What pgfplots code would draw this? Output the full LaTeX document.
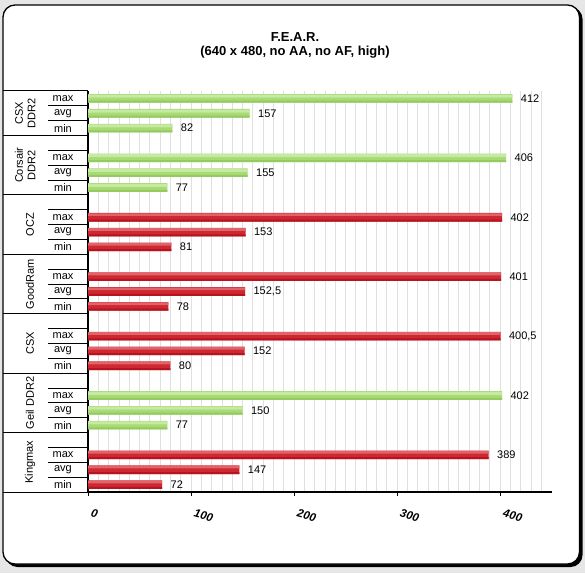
\documentclass[border=0pt]{standalone}
\usepackage{fontspec}
\setmainfont{Liberation Sans}
\usepackage{pgfplots}
\pgfplotsset{compat=1.18}
\usepackage{pgfplotstable}

\definecolor{bgc}{RGB}{230,230,230}
\definecolor{gtop}{RGB}{198,234,162}
\definecolor{gmid}{RGB}{168,218,118}
\definecolor{gbot}{RGB}{148,202,96}
\definecolor{rtop}{RGB}{224,100,105}
\definecolor{rmid}{RGB}{206,40,50}
\definecolor{rbot}{RGB}{182,20,30}
\definecolor{gridc}{RGB}{224,224,224}

\pgfplotstableread{
x y lab
412 26.5 412
157 25.5 157
82 24.5 82
406 22.5 406
155 21.5 155
77 20.5 77
402 6.5 402
150 5.5 150
77 4.5 77
}\greendata

\pgfplotstableread{
x y lab
402 18.5 402
153 17.5 153
81 16.5 81
401 14.5 401
152.5 13.5 152,5
78 12.5 78
400.5 10.5 400,5
152 9.5 152
80 8.5 80
389 2.5 389
147 1.5 147
72 0.5 72
}\reddata

\begin{document}
\begin{tikzpicture}[x=1pt,y=1pt]
\useasboundingbox (0,0) rectangle (585,573);
\fill[bgc] (0,0) rectangle (585,573);
\fill[black, rounded corners=12pt] (5.5,6) rectangle (582.5,566);
\filldraw[fill=white, draw=black, line width=1.3pt, rounded corners=12pt] (3,9) rectangle (579.5,568);

\node[font=\bfseries\fontsize{13}{14.5}\selectfont, align=center] at (295,527.5) {F.E.A.R.\\(640 x 480, no AA, no AF, high)};

\begin{axis}[
  at={(88pt,81pt)}, anchor=south west,
  scale only axis, width=463.5pt, height=401pt,
  xmin=0, xmax=450, ymin=0, ymax=27,
  clip=false,
  axis x line*=bottom, axis y line*=left,
  axis line style={-, line width=1.2pt},
  xtick={0,100,...,400},
  minor xtick={0,10,...,440},
  xmajorgrids=true, xminorgrids=true,
  major grid style={gridc, line width=0.7pt},
  minor grid style={gridc, line width=0.7pt},
  major tick length=4pt, minor tick length=0pt,
  tick align=outside,
  x tick style={black, line width=0.8pt},
  ytick={0.5,1.5,2.5,4.5,5.5,6.5,8.5,9.5,10.5,12.5,13.5,14.5,16.5,17.5,18.5,20.5,21.5,22.5,24.5,25.5,26.5},
  yticklabels={min,avg,max,min,avg,max,min,avg,max,min,avg,max,min,avg,max,min,avg,max,min,avg,max},
  y tick style={draw=none},
  yticklabel style={anchor=center, xshift=-21pt, font=\fontsize{11}{13}\selectfont},
  xticklabel style={anchor=west, rotate=-15, font=\bfseries\itshape\fontsize{11.5}{13}\selectfont},
  xticklabel shift=16pt,
  /pgf/number format/assume math mode=true,
  nodes near coords style={anchor=west, xshift=5pt, font=\fontsize{11}{13}\selectfont, black},
]
\addplot[xbar, bar width=8.6pt, bar shift=0pt, draw=none, fill=gmid,
  point meta=explicit symbolic, nodes near coords] table[x=x, y=y, meta=lab] {\greendata};
\addplot[xbar, bar width=3pt, bar shift=2.2pt, draw=none, fill=gtop] table[x=x, y=y] {\greendata};
\addplot[xbar, bar width=2pt, bar shift=-3.3pt, draw=none, fill=gbot] table[x=x, y=y] {\greendata};
\addplot[xbar, bar width=8.6pt, bar shift=0pt, draw=none, fill=rmid,
  point meta=explicit symbolic, nodes near coords] table[x=x, y=y, meta=lab] {\reddata};
\addplot[xbar, bar width=2.6pt, bar shift=2.6pt, draw=none, fill=rtop] table[x=x, y=y] {\reddata};
\addplot[xbar, bar width=2pt, bar shift=-3.3pt, draw=none, fill=rbot] table[x=x, y=y] {\reddata};

\pgfplotsinvokeforeach{0,4,8,12,16,20,24,27}{
  \draw[line width=1pt] (axis cs:-82.5,#1) -- (axis cs:0,#1);
}
\pgfplotsinvokeforeach{1,2,3,5,6,7,9,10,11,13,14,15,17,18,19,21,22,23,25,26}{
  \draw[line width=0.9pt] (axis cs:-38.8,#1) -- (axis cs:0,#1);
}
\node[rotate=90, font=\fontsize{11}{12.5}\selectfont, align=center] at (axis cs:-61,25.5) {CSX\\DDR2};
\node[rotate=90, font=\fontsize{11}{12.5}\selectfont, align=center] at (axis cs:-61,22) {Corsair\\DDR2};
\node[rotate=90, font=\fontsize{11}{12.5}\selectfont] at (axis cs:-56.3,18) {OCZ};
\node[rotate=90, font=\fontsize{11}{12.5}\selectfont] at (axis cs:-56.3,14) {GoodRam};
\node[rotate=90, font=\fontsize{11}{12.5}\selectfont] at (axis cs:-56.3,10) {CSX};
\node[rotate=90, font=\fontsize{11}{12.5}\selectfont] at (axis cs:-56.3,6) {Geil DDR2};
\node[rotate=90, font=\fontsize{11}{12.5}\selectfont] at (axis cs:-56.3,2) {Kingmax};
\end{axis}
\end{tikzpicture}
\end{document}
